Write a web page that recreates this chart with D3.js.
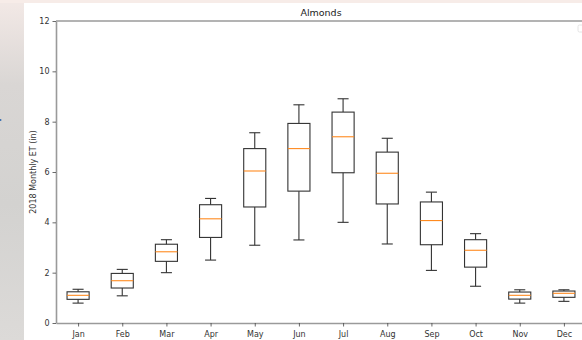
<!DOCTYPE html>
<html>
<head>
<meta charset="utf-8">
<script src="https://cdn.jsdelivr.net/npm/d3@7/dist/d3.min.js"></script>
<style>
  body { margin: 0; padding: 0; overflow: hidden; }
  svg { display: block; font-family: "DejaVu Sans", sans-serif; }
</style>
</head>
<body>
<div id="chart"></div>
<script>
// monthly ET box stats
const months = ['Jan', 'Feb', 'Mar', 'Apr', 'May', 'Jun', 'Jul', 'Aug', 'Sep', 'Oct', 'Nov', 'Dec'];
const whiskerLow = [0.79, 1.08, 2.00, 2.50, 3.09, 3.30, 4.00, 3.14, 2.09, 1.46, 0.79, 0.86];
const q1 = [0.94, 1.39, 2.45, 3.40, 4.61, 5.24, 5.97, 4.73, 3.11, 2.22, 0.95, 1.02];
const medians = [1.10, 1.68, 2.83, 4.14, 6.04, 6.93, 7.40, 5.95, 4.07, 2.89, 1.10, 1.18];
const q3 = [1.24, 1.97, 3.13, 4.70, 6.93, 7.93, 8.38, 6.79, 4.81, 3.31, 1.23, 1.27];
const whiskerHigh = [1.34, 2.13, 3.31, 4.95, 7.56, 8.67, 8.91, 7.34, 5.20, 3.55, 1.32, 1.32];
const yTicks = [0, 2, 4, 6, 8, 10, 12];

const width = 582, height = 340;
const margin = {top: 21, right: -4, bottom: 17, left: 56};

const svg = d3.select('#chart').append('svg')
  .attr('width', width)
  .attr('height', height);

// blurred photo behind the figure
const defs = svg.append('defs');
const grad = defs.append('linearGradient').attr('id', 'bg').attr('x1', 0).attr('y1', 0).attr('x2', 0).attr('y2', 1);
grad.append('stop').attr('offset', '0%').attr('stop-color', '#f3e9e6');
grad.append('stop').attr('offset', '25%').attr('stop-color', '#d9d6d4');
grad.append('stop').attr('offset', '60%').attr('stop-color', '#d3d2d0');
grad.append('stop').attr('offset', '100%').attr('stop-color', '#dcdad8');
svg.append('rect').attr('width', width).attr('height', height).attr('fill', 'url(#bg)');
svg.append('rect').attr('x', 0).attr('y', 0).attr('width', width).attr('height', 3).attr('fill', '#f7ece8');
svg.append('rect').attr('x', 24).attr('y', 3).attr('width', width - 24).attr('height', height - 3).attr('fill', '#ffffff');
svg.append('circle').attr('cx', 0.5).attr('cy', 120).attr('r', 1).attr('fill', '#3b6fb0');

const x = d3.scaleLinear()
  .domain([0.5, 12.5])
  .range([margin.left, width - margin.right]);

const y = d3.scaleLinear()
  .domain([0, 12])
  .range([height - margin.bottom, margin.top]);

const g = svg.append('g');

// boxes
const boxW = x(1.25) - x(1);
const capW = x(1.125) - x(1);
const lineColor = '#333';

months.forEach(function(m, i) {
  const cx = x(i + 1);
  // whiskers
  g.append('line').attr('x1', cx).attr('x2', cx).attr('y1', y(whiskerLow[i])).attr('y2', y(q1[i]))
    .attr('stroke', lineColor).attr('stroke-width', 1.1);
  g.append('line').attr('x1', cx).attr('x2', cx).attr('y1', y(q3[i])).attr('y2', y(whiskerHigh[i]))
    .attr('stroke', lineColor).attr('stroke-width', 1.1);
  // caps
  g.append('line').attr('x1', cx - capW).attr('x2', cx + capW).attr('y1', y(whiskerLow[i])).attr('y2', y(whiskerLow[i]))
    .attr('stroke', lineColor).attr('stroke-width', 1.1);
  g.append('line').attr('x1', cx - capW).attr('x2', cx + capW).attr('y1', y(whiskerHigh[i])).attr('y2', y(whiskerHigh[i]))
    .attr('stroke', lineColor).attr('stroke-width', 1.1);
  // box
  g.append('rect')
    .attr('x', cx - boxW).attr('y', y(q3[i]))
    .attr('width', boxW * 2).attr('height', y(q1[i]) - y(q3[i]))
    .attr('fill', 'none').attr('stroke', lineColor).attr('stroke-width', 1.1);
  // median
  g.append('line').attr('x1', cx - boxW).attr('x2', cx + boxW).attr('y1', y(medians[i])).attr('y2', y(medians[i]))
    .attr('stroke', '#ff8a1f').attr('stroke-width', 1.1);
});

// axes
const xAxis = svg.append('g')
  .attr('transform', 'translate(0,' + y(0) + ')')
  .call(d3.axisBottom(x).tickValues(d3.range(1, 13)).tickFormat(function(d) { return months[d - 1]; })
    .tickSize(3.5).tickSizeOuter(0));

const yAxis = svg.append('g')
  .attr('transform', 'translate(' + margin.left + ',0)')
  .call(d3.axisLeft(y).tickValues(yTicks).tickFormat(d3.format('d')).tickSize(3.5).tickSizeOuter(0));

[xAxis, yAxis].forEach(function(a) {
  a.select('.domain').attr('stroke', '#9a9a9a').attr('stroke-width', 1.6);
  a.selectAll('.tick line').attr('stroke', '#444').attr('stroke-width', 0.8);
  a.selectAll('.tick text').attr('fill', '#333').style('font-size', '8px').style('font-family', '"DejaVu Sans", sans-serif');
});
xAxis.selectAll('.tick text').attr('dy', '0.9em');

// top spine
svg.append('line')
  .attr('x1', margin.left).attr('x2', width)
  .attr('y1', y(12)).attr('y2', y(12))
  .attr('stroke', '#9a9a9a').attr('stroke-width', 1.6);

// empty legend frame
svg.append('rect').attr('x', 578).attr('y', 25).attr('width', 8).attr('height', 7).attr('rx', 1.5)
  .attr('fill', '#fff').attr('stroke', '#ddd').attr('stroke-width', 0.8);

// title + y label
svg.append('text')
  .attr('x', (x(0.5) + x(12.5)) / 2).attr('y', 16)
  .attr('text-anchor', 'middle')
  .attr('fill', '#222')
  .style('font-size', '9.5px')
  .text('Almonds');

svg.append('text')
  .attr('transform', 'translate(36,' + (y(6)) + ') rotate(-90)')
  .attr('text-anchor', 'middle')
  .attr('fill', '#333')
  .style('font-size', '8px')
  .text('2018 Monthly ET (in)');
</script>
</body>
</html>
